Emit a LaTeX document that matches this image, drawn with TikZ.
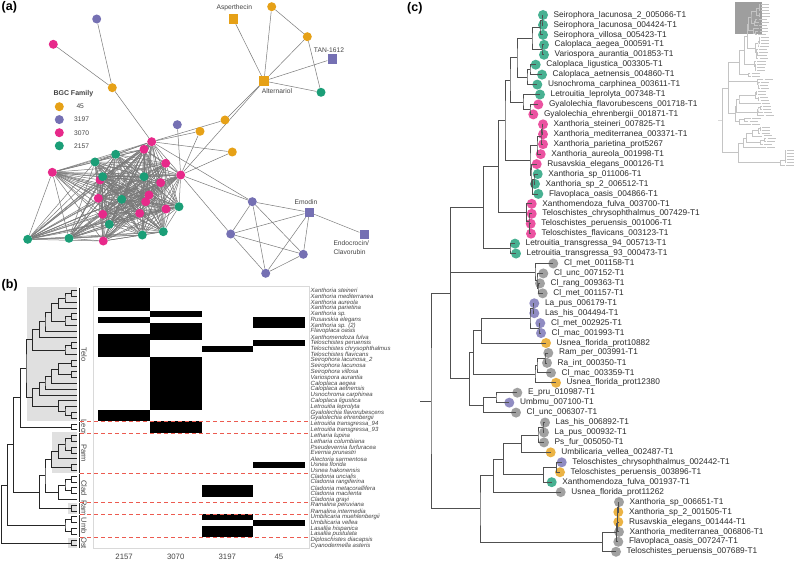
\documentclass[tikz,border=0pt]{standalone}
\usepackage{fontspec}
\setmainfont{Liberation Sans}
\usetikzlibrary{calc,backgrounds}
\definecolor{fGreen}{HTML}{1B9E77}
\definecolor{fPink}{HTML}{E7298A}
\definecolor{fPurple}{HTML}{7570B3}
\definecolor{fOrange}{HTML}{E6A117}
\definecolor{fGray}{HTML}{8A8A8A}
\definecolor{edgegray}{HTML}{7A7A7A}
\definecolor{txtgray}{HTML}{444444}
\definecolor{tipgray}{HTML}{2B2B2B}
\definecolor{boxgray}{HTML}{E0E0E0}
\definecolor{framegray}{HTML}{D9D9D9}
\definecolor{dashred}{HTML}{EC5B50}
\definecolor{treegray}{HTML}{505050}
\definecolor{thumbbox}{HTML}{9E9E9E}
\definecolor{thumbline}{HTML}{C4C4C4}
\tikzset{treeline/.style={draw=black}}
\newcommand\jn[4]{%
  \coordinate (#1mid) at ($(#3)!0.5!(#4)$);
  \coordinate (#1) at (#1mid -| #2,0);
  \draw[treeline] (#3) -| (#1) |- (#4);}
\newcommand\drawctree{%
 \foreach \xx [count=\i] in {543,543,543,544,544,535.7,542,537.3,540,538.3,533.3,543,543,543,540.7,536.7,537.7,535,538.3,531.7,531.7,530.7,531,515,516,553.3,543.3,540,542.7,534.3,534.3,540.3,541,546,548.3,547,551,556,517.3,509.3,516,545,544,544,550.7,561.7,560,551.7,560.7,619,618.3,618.3,619,618.3,616}{\coordinate (ct\i) at (\xx,{15+(\i-1)*9.94});}
 \jn{qa12}{542}{ct1}{ct2}
 \jn{qa13}{540}{qa12}{ct3}
 \jn{qa45}{542}{ct4}{ct5}
 \jn{qa15}{532}{qa13}{qa45}
 \jn{qa67}{530}{ct6}{ct7}
 \jn{qa68}{527}{qa67}{ct8}
 \jn{qa18}{517}{qa15}{qa68}
 \jn{qa1011}{530}{ct10}{ct11}
 \jn{qa911}{523}{ct9}{qa1011}
 \jn{qa111}{510}{qa18}{qa911}
 \jn{qb1213}{542}{ct12}{ct13}
 \jn{qb1214}{541}{qb1213}{ct14}
 \jn{qb1215}{537}{qb1214}{ct15}
 \jn{qb1718}{534}{ct17}{ct18}
 \jn{qb1719}{532.5}{qb1718}{ct19}
 \jn{qb1619}{531}{ct16}{qb1719}
 \jn{qb1219}{530}{qb1215}{qb1619}
 \jn{qa119}{505}{qa111}{qb1219}
 \jn{qc2223}{529.5}{ct22}{ct23}
 \jn{qc2123}{529}{ct21}{qc2223}
 \jn{qc2023}{526.7}{ct20}{qc2123}
 \jn{qa123}{498.3}{qa119}{qc2023}
 \jn{qd2425}{510}{ct24}{ct25}
 \jn{qa125}{483.3}{qa123}{qd2425}
 \jn{qe2829}{538}{ct28}{ct29}
 \jn{qe2729}{537}{ct27}{qe2829}
 \jn{qe2629}{535}{ct26}{qe2729}
 \jn{qf3031}{533}{ct30}{ct31}
 \jn{qf3233}{539}{ct32}{ct33}
 \jn{qf3033}{530}{qf3031}{qf3233}
 \jn{qf3034}{481.7}{qf3033}{ct34}
 \jn{qf3536}{545}{ct35}{ct36}
 \jn{qf3537}{537}{qf3536}{ct37}
 \jn{qf3538}{535}{qf3537}{ct38}
 \jn{qP}{473.3}{qf3034}{qf3538}
 \jn{qh3940}{496}{ct39}{ct40}
 \jn{qh3941}{483.3}{qh3940}{ct41}
 \jn{qF}{469.3}{qP}{qh3941}
 \jn{qN}{450.7}{qa125}{qF}
 \draw[treeline] (qe2629) -- (qe2629 -| qN);
 \jn{qn4243}{543}{ct42}{ct43}
 \jn{qn4244}{538}{qn4243}{ct44}
 \jn{qn4245}{521.7}{qn4244}{ct45}
 \jn{qn4647}{556.7}{ct46}{ct47}
 \jn{qn4648}{543.3}{qn4647}{ct48}
 \jn{qn4248}{503.3}{qn4245}{qn4648}
 \jn{qn4249}{493.3}{qn4248}{ct49}
 \jn{qn5051}{618}{ct50}{ct51}
 \jn{qn5052}{617.5}{qn5051}{ct52}
 \jn{qn5053}{617}{qn5052}{ct53}
 \jn{qn5054}{616.5}{qn5053}{ct54}
 \jn{qn5055}{602.7}{qn5054}{ct55}
 \jn{qL}{480}{qn4249}{qn5055}
 \jn{qR}{431}{qN}{qL}
 \coordinate (qstem) at (qR -| 420,0);
 \draw[treeline] (qstem) -- (qR);
}
\begin{document}
\begin{tikzpicture}[x=1pt,y=-1pt,
 nd/.style={circle,inner sep=0pt,minimum size=9pt},
 sq/.style={rectangle,inner sep=0pt,minimum size=9.4pt},
 netedge/.style={draw=edgegray,line width=0.5pt},
 netlab/.style={font=\fontsize{6.7}{8.4}\selectfont,text=txtgray,inner sep=0pt},
 panel/.style={font=\fontsize{12.5}{14}\selectfont\bfseries,inner sep=0pt,anchor=north west},
 splab/.style={font=\fontsize{6}{6}\selectfont\itshape,text=txtgray,inner sep=0pt,anchor=west},
 collab/.style={font=\fontsize{7.8}{8}\selectfont,text=txtgray,inner sep=0pt},
 cladelab/.style={font=\fontsize{7.5}{8}\selectfont,text=txtgray,inner sep=0pt,rotate=-90},
 hmsep/.style={draw=dashred,line width=1pt,dash pattern=on 4pt off 3pt},
 tipbase/.style={circle,inner sep=0pt,minimum size=10pt,fill opacity=0.8},
 tipG/.style={tipbase,fill=fGreen}, tipK/.style={tipbase,fill=fPink},
 tipU/.style={tipbase,fill=fPurple}, tipO/.style={tipbase,fill=fOrange},
 tipN/.style={tipbase,fill=fGray},
 tiplab/.style={font=\fontsize{8.3}{9}\selectfont,text=tipgray,inner sep=0pt,anchor=west},
 thumbtip/.style={draw=thumbline,line width=0.45pt}
]
\useasboundingbox (0,0) rectangle (794,561);
\begin{pgfonlayer}{background}\fill[white] (0,0) rectangle (794,561);\end{pgfonlayer}

% ---------- panel labels
\node[panel] (pa) at (1.5,1.5) {(a)};
\node[panel] (pb) at (1.5,279.5) {(b)};
\node[panel] (pc) at (407,2.5) {(c)};

% ---------- (a) network
\node[nd,fill=fOrange] (oA) at (112.3,87.7) {};
\node[nd,fill=fOrange] (oB) at (271.7,6.7) {};
\node[nd,fill=fOrange] (oC) at (307.3,36.7) {};
\node[nd,fill=fOrange] (oD) at (225,120) {};
\node[nd,fill=fOrange] (oE) at (200,131.3) {};
\node[nd,fill=fOrange] (oF) at (232.3,152) {};
\node[sq,fill=fOrange] (sAsp) at (233.3,19) {};
\node[sq,fill=fOrange] (sAlt) at (264,81) {};
\node[nd,fill=fPurple] (uA) at (96.7,19) {};
\node[nd,fill=fPurple] (uB) at (177.3,124.7) {};
\node[nd,fill=fPurple] (uC) at (252.3,201.7) {};
\node[nd,fill=fPurple] (uD) at (230.7,234) {};
\node[nd,fill=fPurple] (uE) at (303.3,254.3) {};
\node[nd,fill=fPurple] (uF) at (265.7,273.3) {};
\node[sq,fill=fPurple] (sTan) at (332.3,59) {};
\node[sq,fill=fPurple] (sEmo) at (309.3,212.3) {};
\node[sq,fill=fPurple] (sEnd) at (364.3,234.3) {};
\node[nd,fill=fPink] (kA) at (53.3,44.3) {};
\node[nd,fill=fPink] (kH1) at (151.7,141.7) {};
\node[nd,fill=fPink] (kH2) at (180.7,175) {};
\node[nd,fill=fPink] (k1) at (144,149.3) {};
\node[nd,fill=fPink] (k2) at (165.7,163.3) {};
\node[nd,fill=fPink] (k3) at (52.3,172.3) {};
\node[nd,fill=fPink] (k4) at (100,180) {};
\node[nd,fill=fPink] (k5) at (160.7,182.7) {};
\node[nd,fill=fPink] (k6) at (149,195) {};
\node[nd,fill=fPink] (k7) at (98.3,198.3) {};
\node[nd,fill=fPink] (k8) at (145.7,201.7) {};
\node[nd,fill=fPink] (k9) at (166,209) {};
\node[nd,fill=fPink] (k10) at (102.7,214.3) {};
\node[nd,fill=fPink] (k11) at (139.7,213.3) {};
\node[nd,fill=fPink] (k12) at (103.3,241) {};
\node[nd,fill=fGreen] (gA) at (321,92.3) {};
\node[nd,fill=fGreen] (g1) at (115.7,154.3) {};
\node[nd,fill=fGreen] (g2) at (95,162) {};
\node[nd,fill=fGreen] (g3) at (102.7,176.7) {};
\node[nd,fill=fGreen] (g4) at (144,176.7) {};
\node[nd,fill=fGreen] (g5) at (121.7,199.3) {};
\node[nd,fill=fGreen] (g6) at (179,206.7) {};
\node[nd,fill=fGreen] (g7) at (109.3,224.3) {};
\node[nd,fill=fGreen] (g8) at (163.3,231.7) {};
\node[nd,fill=fGreen] (g9) at (142.3,235) {};
\node[nd,fill=fGreen] (g10) at (69,238.3) {};
\node[nd,fill=fGreen] (g11) at (27.7,239.3) {};

\node[netlab] (lAsp) at (234.3,7.5) {Asperthecin};
\node[netlab] (lTan) at (329,50) {TAN-1612};
\node[netlab] (lAlt) at (277,91) {Alternariol};
\node[netlab] (lEmo) at (306,202) {Emodin};
\node[netlab,align=left,anchor=west] (lEnd) at (333.3,247.5) {Endocrocin/\\Clavorubin};

\node[font=\fontsize{7}{8}\selectfont\bfseries,text=txtgray,anchor=west,inner sep=0pt] (lgT) at (53.3,94) {BGC Family};
\node[nd,fill=fOrange] (lg1) at (59.3,106.7) {};
\node[nd,fill=fPurple] (lg2) at (59.3,119.6) {};
\node[nd,fill=fPink] (lg3) at (59.3,132.7) {};
\node[nd,fill=fGreen] (lg4) at (59.3,145.8) {};
\node[netlab,anchor=west] (lt1) at (76.3,106.7) {45};
\node[netlab,anchor=west] (lt2) at (74,119.6) {3197};
\node[netlab,anchor=west] (lt3) at (74,132.7) {3070};
\node[netlab,anchor=west] (lt4) at (74,145.8) {2157};

\begin{scope}[on background layer]
 \foreach \a [count=\i] in {kH1,kH2,k1,k2,k3,k4,k5,k6,k7,k8,k9,k10,k11,k12,g1,g2,g3,g4,g5,g6,g7,g8,g9,g10,g11}{
   \foreach \b [count=\j] in {kH1,kH2,k1,k2,k3,k4,k5,k6,k7,k8,k9,k10,k11,k12,g1,g2,g3,g4,g5,g6,g7,g8,g9,g10,g11}{
     \ifnum\j>\i \draw[netedge] (\a) -- (\b);\fi}}
 \foreach \a/\b in {uA/oA,kA/oA,oA/kH1,sAsp/sAlt,oB/sAlt,oB/oC,oC/sAlt,oC/gA,sTan/sAlt,sAlt/gA,sAlt/oD,sAlt/kH2,oD/kH1,oE/kH1,oF/kH1,oE/kH2,oF/kH2,uB/kH2,kH1/uC,kH2/uC,kH2/uD,uC/sEmo,uC/uD,uC/uE,uC/uF,uD/sEmo,uD/uE,uD/uF,sEmo/uE,sEmo/uF,uE/uF,sEmo/sEnd}
   \draw[netedge] (\a) -- (\b);
\end{scope}

% ---------- (b) tree + heatmap
\fill[boxgray] (26.7,287) rectangle (77.3,420.6);
\fill[boxgray] (51.7,432) rectangle (77.3,472.8);
\fill[boxgray] (68.3,502.8) rectangle (77.3,513.6);
\fill[boxgray] (68.3,537.6) rectangle (77.3,548.4);

\foreach \i in {1,...,45}{\coordinate (bt\i) at (77,{290.7+(\i-1)*5.8});}
\begin{scope}
\tikzset{treeline/.style={draw=black!85,line width=0.9pt}}
\jn{bA12}{71.7}{bt1}{bt2}
\jn{bA13}{65}{bA12}{bt3}
\jn{bA14}{58.3}{bA13}{bt4}
\jn{bA56}{71.7}{bt5}{bt6}
\jn{bA57}{65}{bA56}{bt7}
\jn{bA17}{51.7}{bA14}{bA57}
\jn{bA18}{45}{bA17}{bt8}
\jn{bA19}{39.3}{bA18}{bt9}
\jn{bA1011}{71.7}{bt10}{bt11}
\jn{bA1012}{65}{bA1011}{bt12}
\jn{bA112}{32.7}{bA19}{bA1012}
\jn{bB1314}{71.7}{bt13}{bt14}
\jn{bB1516}{71.7}{bt15}{bt16}
\jn{bB1316}{58.3}{bB1314}{bB1516}
\jn{bB1317}{51.7}{bB1316}{bt17}
\jn{bB1318}{45}{bB1317}{bt18}
\jn{bB1319}{39.3}{bB1318}{bt19}
\jn{bB2223}{71.7}{bt22}{bt23}
\jn{bB2123}{65}{bt21}{bB2223}
\jn{bB2023}{58.3}{bt20}{bB2123}
\jn{bB1323}{32.7}{bB1319}{bB2023}
\jn{bT}{26}{bA112}{bB1323}
\jn{bL2425}{71.7}{bt24}{bt25}
\jn{bTL}{20.7}{bT}{bL2425}
\jn{bP2627}{71.7}{bt26}{bt27}
\jn{bP2829}{71.7}{bt28}{bt29}
\jn{bP2629}{65}{bP2627}{bP2829}
\jn{bP2630}{58.3}{bP2629}{bt30}
\jn{bP3132}{71.7}{bt31}{bt32}
\jn{bP2632}{51.7}{bP2630}{bP3132}
\jn{bC3334}{71.7}{bt33}{bt34}
\jn{bC3536}{71.7}{bt35}{bt36}
\jn{bC3336}{65}{bC3334}{bC3536}
\jn{bC3337}{58.3}{bC3336}{bt37}
\jn{bPC}{45}{bP2632}{bC3337}
\jn{bR3839}{71.7}{bt38}{bt39}
\jn{bPCR}{39.3}{bPC}{bR3839}
\jn{bTLPCR}{13.3}{bTL}{bPCR}
\jn{bU4041}{71.7}{bt40}{bt41}
\jn{bU4243}{71.7}{bt42}{bt43}
\jn{bU4043}{65}{bU4041}{bU4243}
\jn{bUU}{7.3}{bTLPCR}{bU4043}
\jn{bO4445}{71.7}{bt44}{bt45}
\jn{bRoot}{1.7}{bUU}{bO4445}
\end{scope}

\foreach \nm/\a/\b in {Telo/1/23,Lecr/24/25,Parm/26/32,Clad/33/37,Ram/38/39,Umb/40/43,Ost/44/45}{
  \draw[black!85,line width=0.7pt] (79.5,{290.7+(\a-1)*5.8-2.4}) -- (79.5,{290.7+(\b-1)*5.8+2.4});
  \node[cladelab] (cl\nm) at (84,{290.7+(\a+\b-2)*2.9}) {\nm};
}

\draw[framegray,line width=0.9pt] (93.3,286.7) rectangle (309.3,548.3);
\foreach \c/\a/\b in {1/1/4,1/6/6,1/9/12,1/22/23,2/5/5,2/7/9,2/13/21,2/24/25,3/11/11,3/35/36,3/40/40,3/42/43,4/6/7,4/10/10,4/31/31,4/41/41}
  \fill[black] ({98.3+(\c-1)*51.6},{287.8+(\a-1)*5.8}) rectangle ({98.3+\c*51.6},{287.8+\b*5.8});
\foreach \yy in {421.5,433.5,473.5,502.5,514.5,537.5}
  \draw[hmsep] (80,\yy) -- (310,\yy);
\node[collab] (h1) at (124.1,556.7) {2157};
\node[collab] (h2) at (175.7,556.7) {3070};
\node[collab] (h3) at (227.3,556.7) {3197};
\node[collab] (h4) at (278.9,556.7) {45};
\foreach \t [count=\i] in {Xanthoria steineri,Xanthoria mediterranea,Xanthoria aureola,Xanthoria parietina,Xanthoria sp.,Rusavskia elegans,Xanthoria sp. (2),Flavoplaca oasis,Xanthomendoza fulva,Teloschistes peruensis,Teloschistes chrysophthalmus,Teloschistes flavicans,Seirophora lacunosa\_2,Seirophora lacunosa,Seirophora villosa,Variospora aurantia,Caloplaca aegea,Caloplaca aetnensis,Usnochroma carphinea,Caloplaca ligustica,Letrouitia leprolyta,Gyalolechia flavorubescens,Gyalolechia ehrenbergii,Letrouitia transgressa\_94,Letrouitia transgressa\_93,Letharia lupina,Letharia columbiana,Pseudevernia furfuracea,Evernia prunastri,Alectoria sarmentosa,Usnea florida,Usnea hakonensis,Cladonia uncialis,Cladonia rangiferina,Cladonia metacorallifera,Cladonia macilenta,Cladonia grayi,Ramalina peruviana,Ramalina intermedia,Umbilicaria muehlenbergii,Umbilicaria vellea,Lasallia hispanica,Lasallia pustulata,Diploschistes diacapsis,Cyanodermella asteris}
  {\node[splab] (sp\i) at (310.5,{290.7+(\i-1)*5.8}) {\t};}

% ---------- (c) tree
\foreach \xx [count=\i] in {543,543,543,544,544,535.7,542,537.3,540,538.3,533.3,543,543,543,540.7,536.7,537.7,535,538.3,531.7,531.7,530.7,531,515,516,553.3,543.3,540,542.7,534.3,534.3,540.3,541,546,548.3,547,551,556,517.3,509.3,516,545,544,544,550.7,561.7,560,551.7,560.7,619,618.3,618.3,619,618.3,616}{\coordinate (ct\i) at (\xx,{15+(\i-1)*9.94});}
\foreach \cl [count=\i] in {G,G,G,G,G,G,G,G,G,K,K,K,K,K,K,K,G,G,G,K,K,K,K,G,G,N,N,N,N,U,U,U,U,O,N,N,N,O,N,U,N,N,N,N,O,U,O,G,N,N,O,O,N,N,N}
  {\node[tip\cl] (cc\i) at (ct\i) {};}
\begin{scope}
\tikzset{treeline/.style={draw=treegray,line width=0.8pt}}
\drawctree
\end{scope}
\foreach \t [count=\i] in {Seirophora\_lacunosa\_2\_005066-T1,Seirophora\_lacunosa\_004424-T1,Seirophora\_villosa\_005423-T1,Caloplaca\_aegea\_000591-T1,Variospora\_aurantia\_001853-T1,Caloplaca\_ligustica\_003305-T1,Caloplaca\_aetnensis\_004860-T1,Usnochroma\_carphinea\_003611-T1,Letrouitia\_leprolyta\_007348-T1,Gyalolechia\_flavorubescens\_001718-T1,Gyalolechia\_ehrenbergii\_001871-T1,Xanthoria\_steineri\_007825-T1,Xanthoria\_mediterranea\_003371-T1,Xanthoria\_parietina\_prot5267,Xanthoria\_aureola\_001998-T1,Rusavskia\_elegans\_000126-T1,Xanthoria\_sp\_011006-T1,Xanthoria\_sp\_2\_006512-T1,Flavoplaca\_oasis\_004866-T1,Xanthomendoza\_fulva\_003700-T1,Teloschistes\_chrysophthalmus\_007429-T1,Teloschistes\_peruensis\_001006-T1,Teloschistes\_flavicans\_003123-T1,Letrouitia\_transgressa\_94\_005713-T1,Letrouitia\_transgressa\_93\_000473-T1,Cl\_met\_001158-T1,Cl\_unc\_007152-T1,Cl\_rang\_009363-T1,Cl\_met\_001157-T1,La\_pus\_006179-T1,Las\_his\_004494-T1,Cl\_met\_002925-T1,Cl\_mac\_001993-T1,Usnea\_florida\_prot10882,Ram\_per\_003991-T1,Ra\_int\_000350-T1,Cl\_mac\_003359-T1,Usnea\_florida\_prot12380,E\_pru\_010987-T1,Umbmu\_007100-T1,Cl\_unc\_006307-T1,Las\_his\_006892-T1,La\_pus\_000932-T1,Ps\_fur\_005050-T1,Umbilicaria\_vellea\_002487-T1,Teloschistes\_chrysophthalmus\_002442-T1,Teloschistes\_peruensis\_003896-T1,Xanthomendoza\_fulva\_001937-T1,Usnea\_florida\_prot11262,Xanthoria\_sp\_006651-T1,Xanthoria\_sp\_2\_001505-T1,Rusavskia\_elegans\_001444-T1,Xanthoria\_mediterranea\_006806-T1,Flavoplaca\_oasis\_007247-T1,Teloschistes\_peruensis\_007689-T1}
  {\node[tiplab] (tl\i) at ($(ct\i)+(10.5,0)$) {\t};}

% ---------- (c) thumbnail
\fill[thumbbox] (735,1.7) rectangle (762,34);
\begin{scope}[shift={(718,3)},xscale=0.34,yscale=0.3,shift={(-420,-10)}]
\tikzset{treeline/.style={draw=thumbline,line width=0.4pt}}
\drawctree
\foreach \i in {1,...,55}{\draw[thumbtip] (ct\i) ++(4,0) -- ++(24,0);}
\end{scope}
\end{tikzpicture}
\end{document}
